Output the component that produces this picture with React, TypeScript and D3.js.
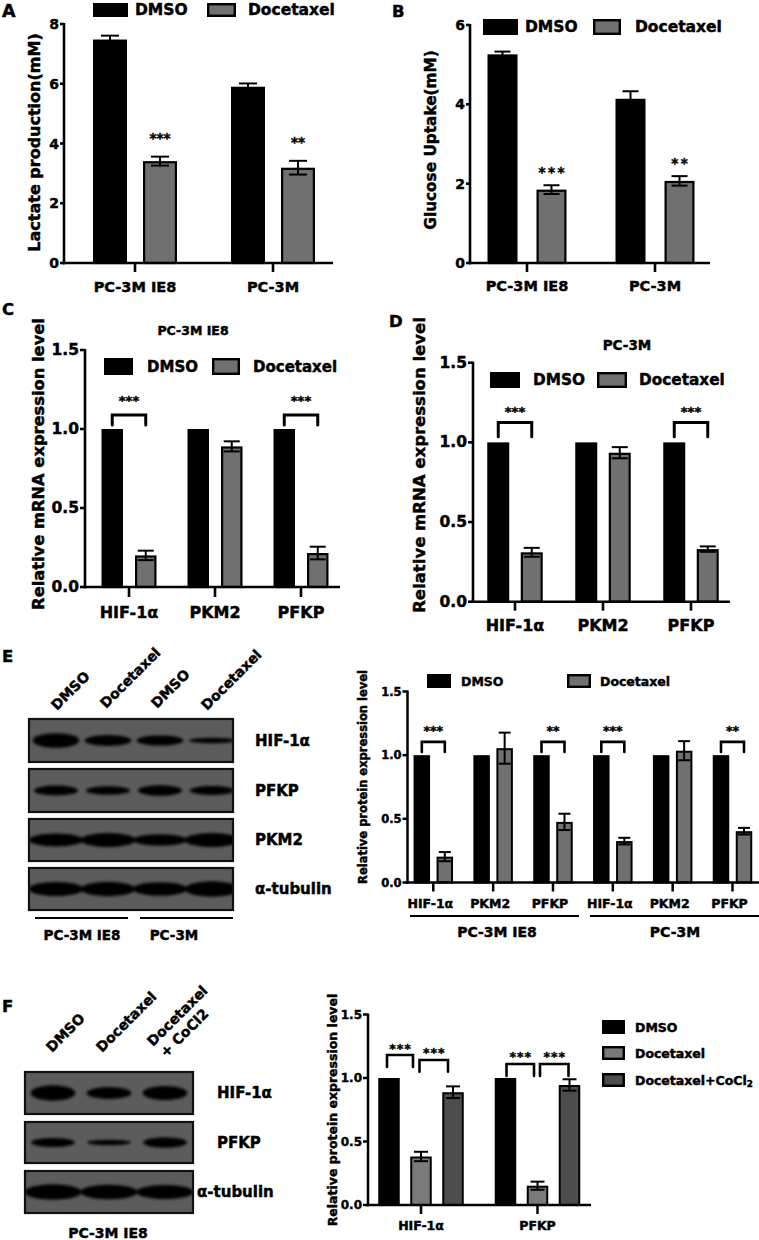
import React from "react";
import * as d3 from "d3";

const FONT = "'DejaVu Sans', Verdana, sans-serif";

// ---------- Panel A: lactate ----------
const cellLines = ["PC-3M IE8", "PC-3M"];
const treatments = ["DMSO", "Docetaxel"];
const lactateDMSO = [7.48, 5.9];
const lactateDMSOErr = [0.13, 0.11];
const lactateDoc = [3.41, 3.19];
const lactateDocErr = [0.15, 0.23];
const lactateSig = ["***", "**"];
const lactateTicks = [0, 2, 4, 6, 8];

// ---------- Panel B: glucose ----------
const glucoseDMSO = [5.26, 4.14];
const glucoseDMSOErr = [0.07, 0.19];
const glucoseDoc = [1.85, 2.07];
const glucoseDocErr = [0.11, 0.12];
const glucoseSig = ["***", "**"];
const glucoseTicks = [0, 2, 4, 6];

// ---------- Panel C / D: mRNA ----------
const genes = ["HIF-1α", "PKM2", "PFKP"];
const relTicks = [0, 0.5, 1, 1.5];
const mrnaIE8DMSO = [1, 1, 1];
const mrnaIE8Doc = [0.2, 0.89, 0.215];
const mrnaIE8DocErr = [0.03, 0.032, 0.04];
const mrnaIE8Sig = ["***", "", "***"];
const mrnaPC3MDMSO = [1, 1, 1];
const mrnaPC3MDoc = [0.31, 0.935, 0.33];
const mrnaPC3MDocErr = [0.028, 0.035, 0.017];
const mrnaPC3MSig = ["***", "", "***"];

// ---------- Panel E: protein ----------
const proteinGenesE = ["HIF-1α", "PKM2", "PFKP", "HIF-1α", "PKM2", "PFKP"];
const proteinGroupsE = ["PC-3M IE8", "PC-3M"];
const proteinEDMSO = [1, 1, 1, 1, 1, 1];
const proteinEDoc = [0.203, 1.055, 0.476, 0.325, 1.035, 0.403];
const proteinEDocErr = [0.036, 0.122, 0.064, 0.026, 0.075, 0.026];
const proteinESig = ["***", "", "**", "***", "", "**"];
const blotELanes = ["DMSO", "Docetaxel", "DMSO", "Docetaxel"];
const blotEProteins = ["HIF-1α", "PFKP", "PKM2", "α-tubulin"];
const blotEBands = [
  [1.05, 0.78, 0.72, 0.4],
  [0.72, 0.62, 0.74, 0.66],
  [0.92, 1.0, 0.82, 1.0],
  [1.0, 1.02, 0.95, 1.1],
];

// ---------- Panel F ----------
const proteinGenesF = ["HIF-1α", "PFKP"];
const treatmentsF = ["DMSO", "Docetaxel", "Docetaxel+CoCl"];
const proteinFDMSO = [1, 1];
const proteinFDoc = [0.382, 0.152];
const proteinFDocErr = [0.037, 0.032];
const proteinFCo = [0.888, 0.945];
const proteinFCoErr = [0.046, 0.045];
const proteinFSig = [
  ["***", "***"],
  ["***", "***"],
];
const blotFLanes = ["DMSO", "Docetaxel", "Docetaxel"];
const blotFLane3Extra = "+ CoCl2";
const blotFProteins = ["HIF-1α", "PFKP", "α-tubulin"];
const blotFBands = [
  [1.1, 0.85, 1.0],
  [0.66, 0.38, 0.74],
  [1.1, 1.05, 1.0],
];

const BLACK = "#000";
const GRAY = "#707070";
const GRAY_F = "#7a7a7a";
const DARK_F = "#4d4d4d";

type Series = { name: string; values: number[]; errors: number[]; fill: string };

function BarChart({ L, cats, series, above, brackets }: any) {
  const y = d3.scaleLinear().domain([0, L.max]).range([L.y0, L.yTop]);
  const idx = d3.range(cats.length);
  const x = d3.scalePoint<number>().domain(idx).range([L.c0, L.c1]);
  const n = series.length;
  const gw = L.pitch * (n - 1) + L.barW;
  const inner = d3
    .scaleBand<number>()
    .domain(d3.range(n))
    .range([-gw / 2, gw / 2])
    .paddingInner(1 - L.barW / L.pitch);
  const bw = inner.bandwidth();
  const cx = (c: number, s: number) => (x(c) as number) + (inner(s) as number) + bw / 2;
  const fmt = d3.format(L.fmt);
  const sw = L.barStroke;
  const aw = L.axisW;
  return (
    <g>
      {series.map((se: Series, s: number) =>
        idx.map((c) => {
          const top = y(se.values[c]);
          return (
            <rect
              key={`b${s}-${c}`}
              x={cx(c, s) - bw / 2 + sw / 2}
              y={top + sw / 2}
              width={bw - sw}
              height={L.y0 - top - sw / 2}
              fill={se.fill}
              stroke={BLACK}
              strokeWidth={sw}
            />
          );
        })
      )}
      {series.map((se: Series, s: number) =>
        idx.map((c) => {
          const e = se.errors[c];
          if (!e) return null;
          const v = se.values[c];
          const xx = cx(c, s);
          const hi = y(v + e);
          const lo = y(v - e);
          return (
            <g key={`e${s}-${c}`} stroke={BLACK} strokeWidth={L.errW}>
              <line x1={xx} x2={xx} y1={lo} y2={hi} />
              <line x1={xx - L.capW / 2} x2={xx + L.capW / 2} y1={hi} y2={hi} />
              <line x1={xx - L.capW / 2} x2={xx + L.capW / 2} y1={lo} y2={lo} />
            </g>
          );
        })
      )}
      {/* axes */}
      <line x1={L.axisX} x2={L.axisX} y1={L.y0 + aw / 2} y2={y(L.max) - 1} stroke={BLACK} strokeWidth={aw} />
      <line x1={L.axisX - aw / 2} x2={L.axisEnd} y1={L.y0} y2={L.y0} stroke={BLACK} strokeWidth={aw} />
      {L.ticks.map((t: number) => (
        <g key={`t${t}`}>
          <line x1={L.axisX - L.tickLen} x2={L.axisX} y1={y(t)} y2={y(t)} stroke={BLACK} strokeWidth={aw} />
          <text
            x={L.axisX - L.tickLen - 1}
            y={y(t)}
            textAnchor="end"
            dominantBaseline="central"
            fontSize={L.tickFont}
          >
            {fmt(t)}
          </text>
        </g>
      ))}
      {idx.map((c) => (
        <g key={`c${c}`}>
          <line
            x1={x(c)}
            x2={x(c)}
            y1={L.y0}
            y2={L.y0 + L.catTick}
            stroke={BLACK}
            strokeWidth={aw}
          />
          <text x={(x(c) as number) + (L.catDx || 0)} y={L.catY} textAnchor="middle" fontSize={L.catFont}>
            {cats[c]}
          </text>
        </g>
      ))}
      {above &&
        above.texts.map((t: string, c: number) => {
          if (!t) return null;
          const se = series[above.series];
          const top = y(se.values[c] + se.errors[c]);
          return (
            <text
              key={`s${c}`}
              x={cx(c, above.series) + (above.spacing || 0) / 2}
              y={top - above.gap}
              textAnchor="middle"
              fontSize={above.font}
              letterSpacing={above.spacing || 0}
            >
              {t}
            </text>
          );
        })}
      {brackets &&
        brackets.map((b: any, k: number) => {
          const x1 = cx(b.c, b.i) + (b.dx1 || 0);
          const x2 = cx(b.c, b.j) + (b.dx2 || 0);
          const yt = y(b.top);
          const yl = y(b.leg);
          return (
            <g key={`br${k}`}>
              <path
                d={`M${x1},${yl}V${yt}H${x2}V${yl}`}
                fill="none"
                stroke={BLACK}
                strokeWidth={L.brW}
                strokeLinejoin="miter"
                strokeLinecap="round"
              />
              <text
                x={(x1 + x2) / 2 + (b.spacing || 0) / 2}
                y={yt - b.gap}
                textAnchor="middle"
                fontSize={b.font}
                letterSpacing={b.spacing || 0}
              >
                {b.text}
              </text>
            </g>
          );
        })}
    </g>
  );
}

function Legend({ items, font }: any) {
  return (
    <g>
      {items.map((it: any, k: number) => (
        <g key={k}>
          <rect
            x={it.x + 1.2}
            y={it.y + 1.2}
            width={it.w - 2.4}
            height={it.h - 2.4}
            fill={it.fill}
            stroke={BLACK}
            strokeWidth={2.4}
          />
          <text x={it.tx} y={it.y + it.h / 2} dominantBaseline="central" fontSize={font}>
            {it.label}
            {it.sub ? (
              <tspan dy={4} fontSize={font * 0.7}>
                {it.sub}
              </tspan>
            ) : null}
          </text>
        </g>
      ))}
    </g>
  );
}

function YLabel({ x, y, text, size }: any) {
  return (
    <text
      transform={`translate(${x},${y}) rotate(-90)`}
      textAnchor="middle"
      dominantBaseline="central"
      fontSize={size}
    >
      {text}
    </text>
  );
}

function Blot({ id, B, lanes, proteins, bands }: any) {
  const lx = d3.scalePoint<number>().domain(d3.range(lanes.length)).range([B.l0, B.l1]);
  const step = lx.step();
  return (
    <g>
      <defs>
        <filter id={`blur-${id}`} x="-20%" y="-50%" width="140%" height="200%">
          <feGaussianBlur stdDeviation={B.blur} />
        </filter>
      </defs>
      {proteins.map((p: string, r: number) => {
        const row = B.rows[r];
        const cy = row.y + row.h / 2;
        return (
          <g key={p + r}>
            <clipPath id={`clip-${id}-${r}`}>
              <rect x={B.x} y={row.y} width={B.w} height={row.h} />
            </clipPath>
            <rect x={B.x} y={row.y} width={B.w} height={row.h} fill="#5c5c5c" />
            <g clipPath={`url(#clip-${id}-${r})`} filter={`url(#blur-${id})`}>
              {bands[r].map((v: number, k: number) => (
                <ellipse
                  key={k}
                  cx={lx(k)}
                  cy={cy}
                  rx={(step * row.wf) / 2}
                  ry={(B.thick * v) / 2}
                  fill="#050505"
                />
              ))}
            </g>
            <rect
              x={B.x}
              y={row.y}
              width={B.w}
              height={row.h}
              fill="none"
              stroke="#111"
              strokeWidth={2.2}
            />
            <text x={row.lx} y={cy} dominantBaseline="central" fontSize={B.labelFont}>
              {p}
            </text>
          </g>
        );
      })}
      {lanes.map((ln: string, k: number) => (
        <text
          key={`ln${k}`}
          transform={`translate(${(lx(k) as number) + B.laneDx[k]},${B.laneY[k]}) rotate(-45)`}
          fontSize={B.laneFont}
        >
          <tspan x={0} y={0}>
            {ln}
          </tspan>
          {B.extra && k === lanes.length - 1 ? (
            <tspan x={1.5} y={17}>
              {B.extra}
            </tspan>
          ) : null}
        </text>
      ))}
    </g>
  );
}

export default function App() {
  const serAB = (v: number[], ve: number[], d: number[], de: number[]): Series[] => [
    { name: treatments[0], values: v, errors: ve, fill: BLACK },
    { name: treatments[1], values: d, errors: de, fill: GRAY },
  ];
  const zeros3 = [0, 0, 0];
  const zeros6 = [0, 0, 0, 0, 0, 0];

  const LA = {
    axisX: 64, axisEnd: 333, y0: 263, yTop: 24, max: 8, ticks: lactateTicks, fmt: "d",
    tickFont: 14, tickLen: 4, c0: 135, c1: 273, barW: 34, pitch: 50, catFont: 14.5,
    catY: 292, catTick: 9, axisW: 2.6, barStroke: 2.2, errW: 2, capW: 18,
  };
  const LB = { ...LA, axisX: 470, axisEnd: 710, yTop: 25, max: 6, ticks: glucoseTicks, c0: 527, c1: 655, barW: 30, pitch: 49, catY: 291, capW: 16 };
  const LC = {
    axisX: 85, axisEnd: 340, y0: 587, yTop: 350, max: 1.5, ticks: relTicks, fmt: ".1f",
    tickFont: 15.5, tickLen: 5, c0: 129, c1: 301, barW: 21.5, pitch: 33.5, catFont: 16,
    catY: 618, catTick: 10, axisW: 2.6, barStroke: 2.2, errW: 2, capW: 16, brW: 3,
  };
  const LD = { ...LC, axisX: 473, axisEnd: 730, y0: 601.7, yTop: 362.7, c0: 515, c1: 691, barW: 22, catY: 631, catTick: 9 };
  const LE = {
    axisX: 407.5, axisEnd: 759, y0: 882.5, yTop: 691.5, max: 1.5, ticks: relTicks, fmt: ".1f",
    tickFont: 11.5, tickLen: 5, c0: 433.3, c1: 732.5, barW: 16.5, pitch: 23, catFont: 12.5,
    catY: 908, catTick: 9, axisW: 2.5, barStroke: 2, errW: 2, capW: 12, brW: 2.6, catDx: -3,
  };
  const LF = {
    axisX: 368, axisEnd: 591, y0: 1205, yTop: 1014.5, max: 1.5, ticks: relTicks, fmt: ".1f",
    tickFont: 12, tickLen: 5, c0: 421, c1: 537.5, barW: 21.5, pitch: 32, catFont: 12.5,
    catY: 1230, catTick: 9, axisW: 2.5, barStroke: 2, errW: 2, capW: 14, brW: 2.6,
  };

  const bracketsFrom = (sig: string[], top: number, leg: number, gap: number, font: number) =>
    sig
      .map((t, c) => ({ c, i: 0, j: 1, top, leg, text: t, gap, font }))
      .filter((b) => b.text);

  const BE = {
    x: 29, w: 204, l0: 56, l1: 212, thick: 14, blur: 1.6, labelFont: 15, laneFont: 14,
    laneDx: [1, -2, -3, -5], laneY: [711, 709, 709, 711],
    rows: [
      { y: 719, h: 43, wf: 0.9, lx: 255 },
      { y: 769, h: 43, wf: 0.85, lx: 255 },
      { y: 819, h: 42, wf: 1.05, lx: 255 },
      { y: 868, h: 42, wf: 1.05, lx: 255 },
    ],
  };
  const BF = {
    x: 25, w: 168, l0: 53, l1: 165, thick: 14, blur: 1.7, labelFont: 15, laneFont: 14,
    laneDx: [-1, -7, -12], laneY: [1053, 1053, 1047], extra: blotFLane3Extra,
    rows: [
      { y: 1072, h: 42, wf: 0.8, lx: 217 },
      { y: 1122, h: 41, wf: 0.78, lx: 217 },
      { y: 1171, h: 42, wf: 1.02, lx: 197 },
    ],
  };

  return (
    <svg
      width={759}
      height={1240}
      style={{ position: "absolute", left: 0, top: 0, background: "#fff" }}
      fontFamily={FONT}
      fontWeight="bold"
    >
      <style>{`text { stroke: #000; stroke-width: 0.45px; }`}</style>
      <rect width={759} height={1240} fill="#fff" />
      {/* Panel letters */}
      <text x={2} y={17} fontSize={17.5}>A</text>
      <text x={392} y={17} fontSize={16.5}>B</text>
      <text x={2} y={315} fontSize={16.5}>C</text>
      <text x={389} y={327} fontSize={16.5}>D</text>
      <text x={2} y={662} fontSize={16.5}>E</text>
      <text x={2} y={1012} fontSize={16.5}>F</text>

      {/* A */}
      <Legend
        font={15.5}
        items={[
          { x: 93, y: 3, w: 35, h: 14, fill: BLACK, tx: 135, label: treatments[0] },
          { x: 207, y: 3, w: 29, h: 14, fill: GRAY, tx: 248, label: treatments[1] },
        ]}
      />
      <BarChart
        L={LA}
        cats={cellLines}
        series={serAB(lactateDMSO, lactateDMSOErr, lactateDoc, lactateDocErr)}
        above={{ series: 1, texts: lactateSig, gap: 13.5, font: 13.5 }}
      />
      <YLabel x={34.5} y={142.5} text="Lactate production(mM)" size={16} />

      {/* B */}
      <Legend
        font={15.5}
        items={[
          { x: 483, y: 19, w: 35, h: 16, fill: BLACK, tx: 525, label: treatments[0] },
          { x: 593, y: 19, w: 28, h: 16, fill: GRAY, tx: 635, label: treatments[1] },
        ]}
      />
      <BarChart
        L={LB}
        cats={cellLines}
        series={serAB(glucoseDMSO, glucoseDMSOErr, glucoseDoc, glucoseDocErr)}
        above={{ series: 1, texts: glucoseSig, gap: 8.4, font: 13.5, spacing: 2.5 }}
      />
      <YLabel x={430.5} y={140} text="Glucose Uptake(mM)" size={15.3} />

      {/* C */}
      <text x={193} y={330} textAnchor="middle" dominantBaseline="central" fontSize={12.5}>
        PC-3M IE8
      </text>
      <Legend
        font={15}
        items={[
          { x: 104, y: 358, w: 29, h: 17, fill: BLACK, tx: 147, label: treatments[0] },
          { x: 212, y: 358, w: 28, h: 17, fill: GRAY, tx: 253, label: treatments[1] },
        ]}
      />
      <BarChart
        L={LC}
        cats={genes}
        series={serAB(mrnaIE8DMSO, zeros3, mrnaIE8Doc, mrnaIE8DocErr)}
        brackets={bracketsFrom(mrnaIE8Sig, 1.088, 1.025, 10.5, 13)}
      />
      <YLabel x={38.5} y={464} text="Relative mRNA expression level" size={16.3} />

      {/* D */}
      <text x={627} y={345} textAnchor="middle" dominantBaseline="central" fontSize={13.5}>
        PC-3M
      </text>
      <Legend
        font={15.3}
        items={[
          { x: 490, y: 372, w: 30, h: 16, fill: BLACK, tx: 533, label: treatments[0] },
          { x: 597, y: 372, w: 30, h: 16, fill: GRAY, tx: 639, label: treatments[1] },
        ]}
      />
      <BarChart
        L={LD}
        cats={genes}
        series={serAB(mrnaPC3MDMSO, zeros3, mrnaPC3MDoc, mrnaPC3MDocErr)}
        brackets={bracketsFrom(mrnaPC3MSig, 1.124, 1.036, 6.7, 13)}
      />
      <YLabel x={419.5} y={465} text="Relative mRNA expression level" size={16.5} />

      {/* E blot */}
      <Blot id="e" B={BE} lanes={blotELanes} proteins={blotEProteins} bands={blotEBands} />
      <line x1={35} x2={128} y1={918} y2={918} stroke={BLACK} strokeWidth={2} />
      <line x1={140} x2={233} y1={918} y2={918} stroke={BLACK} strokeWidth={2} />
      <text x={82} y={935} textAnchor="middle" dominantBaseline="central" fontSize={13.5}>
        {proteinGroupsE[0]}
      </text>
      <text x={174} y={935} textAnchor="middle" dominantBaseline="central" fontSize={13.5}>
        {proteinGroupsE[1]}
      </text>

      {/* E chart */}
      <Legend
        font={12.5}
        items={[
          { x: 427, y: 674, w: 24, h: 14, fill: BLACK, tx: 461, label: treatments[0] },
          { x: 567, y: 674, w: 24, h: 14, fill: GRAY, tx: 600, label: treatments[1] },
        ]}
      />
      <BarChart
        L={LE}
        cats={proteinGenesE}
        series={serAB(proteinEDMSO, zeros6, proteinEDoc, proteinEDocErr)}
        brackets={bracketsFrom(proteinESig, 1.104, 1.025, 6.7, 12.5)}
      />
      <YLabel x={362.5} y={777} text="Relative protein expression level" size={11.5} />
      <line x1={410} x2={579} y1={916} y2={916} stroke={BLACK} strokeWidth={2} />
      <line x1={590} x2={759} y1={916} y2={916} stroke={BLACK} strokeWidth={2} />
      <text x={497} y={932} textAnchor="middle" dominantBaseline="central" fontSize={14}>
        {proteinGroupsE[0]}
      </text>
      <text x={675} y={932} textAnchor="middle" dominantBaseline="central" fontSize={14}>
        {proteinGroupsE[1]}
      </text>

      {/* F blot */}
      <Blot id="f" B={BF} lanes={blotFLanes} proteins={blotFProteins} bands={blotFBands} />
      <text x={108} y={1233} textAnchor="middle" dominantBaseline="central" fontSize={14}>
        PC-3M IE8
      </text>

      {/* F chart */}
      <BarChart
        L={LF}
        cats={proteinGenesF}
        series={[
          { name: treatmentsF[0], values: proteinFDMSO, errors: [0, 0], fill: BLACK },
          { name: treatmentsF[1], values: proteinFDoc, errors: proteinFDocErr, fill: GRAY_F },
          { name: treatmentsF[2], values: proteinFCo, errors: proteinFCoErr, fill: DARK_F },
        ]}
        brackets={[
          { c: 0, i: 0, j: 1, top: 1.181, leg: 1.087, text: proteinFSig[0][0], gap: 2.5, font: 12.5, dx1: -2, dx2: -8, spacing: 1 },
          { c: 0, i: 1, j: 2, top: 1.142, leg: 1.05, text: proteinFSig[0][1], gap: 2.5, font: 12.5, dx1: -1.5, dx2: -5, spacing: 1 },
          { c: 1, i: 0, j: 1, top: 1.11, leg: 1.016, text: proteinFSig[1][0], gap: 3, font: 12.5, dx1: 1, dx2: -3.5, spacing: 1 },
          { c: 1, i: 1, j: 2, top: 1.11, leg: 1.016, text: proteinFSig[1][1], gap: 3, font: 12.5, dx1: 2.5, dx2: -1, spacing: 1 },
        ]}
      />
      <YLabel x={332} y={1110} text="Relative protein expression level" size={12.5} />
      <Legend
        font={12.5}
        items={[
          { x: 602, y: 1020, w: 23, h: 14, fill: BLACK, tx: 635, label: treatmentsF[0] },
          { x: 602, y: 1046, w: 23, h: 14, fill: GRAY_F, tx: 635, label: treatmentsF[1] },
          { x: 602, y: 1073, w: 23, h: 14, fill: DARK_F, tx: 635, label: treatmentsF[2], sub: "2" },
        ]}
      />
    </svg>
  );
}
